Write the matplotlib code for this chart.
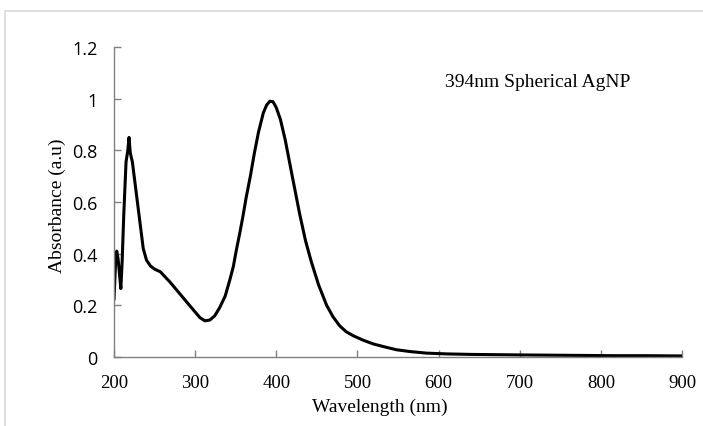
import matplotlib
matplotlib.use("Agg")
from matplotlib import pyplot as plt
from matplotlib.patches import Rectangle

# UV-Vis spectrum
wavelength = [200, 202, 203.3, 205, 206.5, 208.4, 210, 212, 214.8, 217, 218.5,
              220, 222.6, 227, 232, 236, 240, 245, 250, 257, 263, 269, 277,
              285, 293, 300, 306, 312, 318, 324, 330, 337, 343, 347, 351, 355,
              359, 363, 368, 373, 378, 384, 388, 392, 396, 400, 405, 411, 419,
              429, 436, 443, 452, 462, 470, 478, 486, 495, 507, 520, 535, 548,
              565, 585, 610, 640, 670, 700, 740, 780, 820, 860, 900]
absorbance = [0.225, 0.37, 0.41, 0.38, 0.33, 0.265, 0.37, 0.55, 0.755, 0.80, 0.85,
              0.79, 0.755, 0.645, 0.52, 0.42, 0.375, 0.352, 0.34, 0.33, 0.31, 0.29, 0.26,
              0.23, 0.20, 0.174, 0.152, 0.14, 0.143, 0.159, 0.19, 0.236, 0.302, 0.35, 0.418, 0.48,
              0.547, 0.62, 0.70, 0.79, 0.87, 0.945, 0.975, 0.99, 0.988, 0.965, 0.92, 0.84, 0.71,
              0.55, 0.45, 0.37, 0.28, 0.20, 0.155, 0.121, 0.098, 0.082, 0.065, 0.05, 0.038, 0.028,
              0.021, 0.015, 0.012, 0.010, 0.009, 0.008, 0.007, 0.006, 0.005, 0.005, 0.004]

x_ticks = [200, 300, 400, 500, 600, 700, 800, 900]
y_ticks = [0, 0.2, 0.4, 0.6, 0.8, 1, 1.2]
y_tick_labels = ["0", "0.2", "0.4", "0.6", "0.8", "1", "1.2"]

serif = "Liberation Serif"

fig = plt.figure(figsize=(7.03, 4.27), dpi=100)
ax = fig.add_axes([0.1622, 0.1616, 0.808, 0.726])

# light chart-area border
fig.patches.append(Rectangle((5 / 703, -0.05), 1.2, (427 - 12) / 427 + 0.05,
                             transform=fig.transFigure, fill=False,
                             edgecolor="#d9d9d9", linewidth=1.2))

ax.plot(wavelength, absorbance, color="black", linewidth=2.2)

ax.set_xlim(200, 900)
ax.set_ylim(0, 1.2)
ax.set_xticks(x_ticks)
ax.set_xticklabels([str(t) for t in x_ticks], fontfamily=serif, fontsize=13.5)
ax.set_yticks(y_ticks)
ax.set_yticklabels(y_tick_labels, fontfamily="Open Sans", fontsize=13)

for side in ["top", "right"]:
    ax.spines[side].set_visible(False)
for side in ["left", "bottom"]:
    ax.spines[side].set_color("#808080")
    ax.spines[side].set_linewidth(1)
ax.tick_params(direction="in", length=5, color="#808080", width=1)
ax.tick_params(axis="y", pad=12)
ax.tick_params(axis="x", pad=12)

ax.set_xlabel("Wavelength (nm)", fontfamily=serif, fontsize=14)
ax.xaxis.set_label_coords(0.468, -0.158)
ax.xaxis.label.set_va("center")
ax.set_ylabel("Absorbance (a.u)", fontfamily=serif, fontsize=14)
ax.yaxis.set_label_coords(-0.10, 0.49)
ax.yaxis.label.set_va("center")

ax.text(608, 1.065, "394nm Spherical AgNP", fontfamily=serif, fontsize=14,
        ha="left", va="center")

fig.savefig("out.png", dpi=100)
